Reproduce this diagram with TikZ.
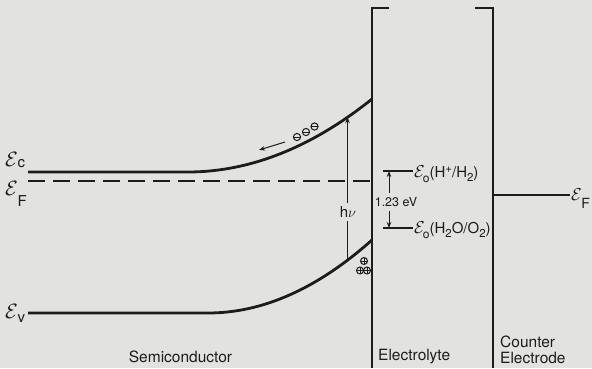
\documentclass[tikz,border=0pt]{standalone}
\usepackage{fontspec}
\setmainfont{TeX Gyre Heros}
\setsansfont{TeX Gyre Heros}
\usetikzlibrary{arrows.meta,intersections}
\definecolor{paper}{RGB}{226,226,224}
\definecolor{ink}{RGB}{28,28,28}
% script E with a lowered sans subscript: #1 sub text, #2 lowering (pt), #3 size of E, #4 size of sub
\newcommand{\Escr}[4]{{\fontsize{#3}{#3}\selectfont$\mathcal{E}$}\kern-0.5pt\raisebox{-#2pt}{\fontsize{#4}{#4}\selectfont #1}}
\begin{document}
\begin{tikzpicture}[x=1pt,y=-1pt,
  band/.style={line width=2.8pt, draw=ink},
  fermi/.style={line width=2.6pt, draw=ink, dash pattern=on 17pt off 8pt},
  wall/.style={line width=1.4pt, draw=ink},
  ln/.style={line width=1.1pt, draw=ink},
  arr/.style={-{Stealth[length=6pt,width=4.5pt]}},
  lab/.style={inner sep=0pt, text=ink},
  elec/.style={circle, draw=ink, line width=1pt, inner sep=0pt, minimum size=7.2pt,
    path picture={\draw[ink,line width=1pt] (path picture bounding box.west) -- (path picture bounding box.east);}},
  hole/.style={circle, draw=ink, line width=1pt, inner sep=0pt, minimum size=7pt,
    path picture={\draw[ink,line width=1pt] (path picture bounding box.west) -- (path picture bounding box.east)
      (path picture bounding box.north) -- (path picture bounding box.south);}}
]
\fill[paper] (0,0) rectangle (592,368);
\useasboundingbox (0,0) rectangle (592,368);

% interface walls
\coordinate (wLt) at (389,8); \coordinate (wLc) at (372,8); \coordinate (wLb) at (372,368);
\coordinate (wRt) at (475,8); \coordinate (wRc) at (493,8); \coordinate (wRb) at (493,368);
\draw[wall] (wLt) -- (wLc) -- (wLb);
\draw[wall] (wRt) -- (wRc) -- (wRb);

% conduction band
\coordinate (cbL) at (28,172); \coordinate (cbK) at (188,172); \coordinate (cbR) at (372,99);
\draw[band, name path=cbpath] (cbL) -- (cbK) .. controls (249.3,172) and (311.3,147.7) .. (cbR);
% valence band
\coordinate (vbL) at (28,313); \coordinate (vbK) at (208,313); \coordinate (vbR) at (372,240);
\draw[band, name path=vbpath] (vbL) -- (vbK) .. controls (262.7,313) and (317.3,288.7) .. (vbR);
% Fermi level
\coordinate (efL) at (28,181); \coordinate (efR) at (372,181);
\draw[fermi] (efL) -- (efR);
% counter electrode Fermi level
\coordinate (ceL) at (493,195); \coordinate (ceR) at (570,195);
\draw[line width=2pt, draw=ink] (ceL) -- (ceR);

% band labels
\node[lab, anchor=base west] (Ec) at (5,166) {\Escr{c}{1.5}{20}{15}};
\node[lab, anchor=base west] (EF) at (5,195) {\Escr{F}{11}{20}{15}};
\node[lab, anchor=base west] (Ev) at (5,318) {\Escr{v}{4}{20}{15}};
\node[lab, anchor=base west] (EFr) at (571,200) {\Escr{F}{8}{19}{14}};

% redox levels
\coordinate (h1a) at (383,171); \coordinate (h1b) at (413,171);
\coordinate (h2a) at (383,228); \coordinate (h2b) at (413,228);
\draw[ln] (h1a) -- (h1b);
\draw[ln] (h2a) -- (h2b);
\node[lab, anchor=base west] (L1) at (414,177)
  {{\fontsize{17}{17}\selectfont$\mathcal{E}$}\kern-2pt\raisebox{-5pt}{\fontsize{12}{12}\selectfont o}{\fontsize{15}{15}\selectfont(H\raisebox{5pt}{\fontsize{11.5}{11.5}\selectfont +}/H\raisebox{-4.5pt}{\fontsize{11.5}{11.5}\selectfont 2})}};
\node[lab, anchor=base west] (L2) at (414,233)
  {{\fontsize{17}{17}\selectfont$\mathcal{E}$}\kern-2pt\raisebox{-5pt}{\fontsize{12}{12}\selectfont o}{\fontsize{15}{15}\selectfont(H\raisebox{-4.5pt}{\fontsize{11.5}{11.5}\selectfont 2}O/O\raisebox{-4.5pt}{\fontsize{11.5}{11.5}\selectfont 2})}};

% 1.23 eV
\node[lab, font=\fontsize{12.5}{12.5}\selectfont] (ev) at (396,202) {1.23 eV};
\coordinate (a1s) at (389,193); \coordinate (a1e) at (389,171);
\coordinate (a2s) at (389,211); \coordinate (a2e) at (389,228);
\draw[line width=0.9pt, draw=ink, arr] (a1s) -- (a1e);
\draw[line width=0.9pt, draw=ink, arr] (a2s) -- (a2e);

% h nu
\node[lab, inner sep=3.5pt, font=\fontsize{15}{15}\selectfont] (hv) at (348,212) {h$\nu$};
\path[name path=hvline] (347.5,90) -- (347.5,300);
\path[name intersections={of=cbpath and hvline, by={hvtop}}];
\path[name intersections={of=vbpath and hvline, by={hvbot}}];
\draw[line width=1pt, draw=ink, arr] (hv.north -| hvtop) -- (hvtop);
\draw[line width=1pt, draw=ink] (hv.south -| hvbot) -- (hvbot);

% electrons
\node[elec] (e1) at (297,137) {};
\node[elec] (e2) at (306,132) {};
\node[elec] (e3) at (314.5,126.5) {};
\coordinate (ea1) at (285,142); \coordinate (ea2) at (259,150);
\draw[line width=1pt, draw=ink, arr] (ea1) -- (ea2);

% holes
\node[hole] (p1) at (364,261) {};
\node[hole] (p2) at (360,270.5) {};
\node[hole] (p3) at (367,270.5) {};

% region labels
\node[lab, font=\fontsize{15.5}{15.5}\selectfont] (sc) at (180.5,357) {Semiconductor};
\node[lab, anchor=west, font=\fontsize{15.5}{15.5}\selectfont] (el) at (378,357) {Electrolyte};
\node[lab, anchor=west, align=left, font=\fontsize{15.5}{16}\selectfont] (ce) at (500,350) {Counter\\Electrode};
\end{tikzpicture}
\end{document}
